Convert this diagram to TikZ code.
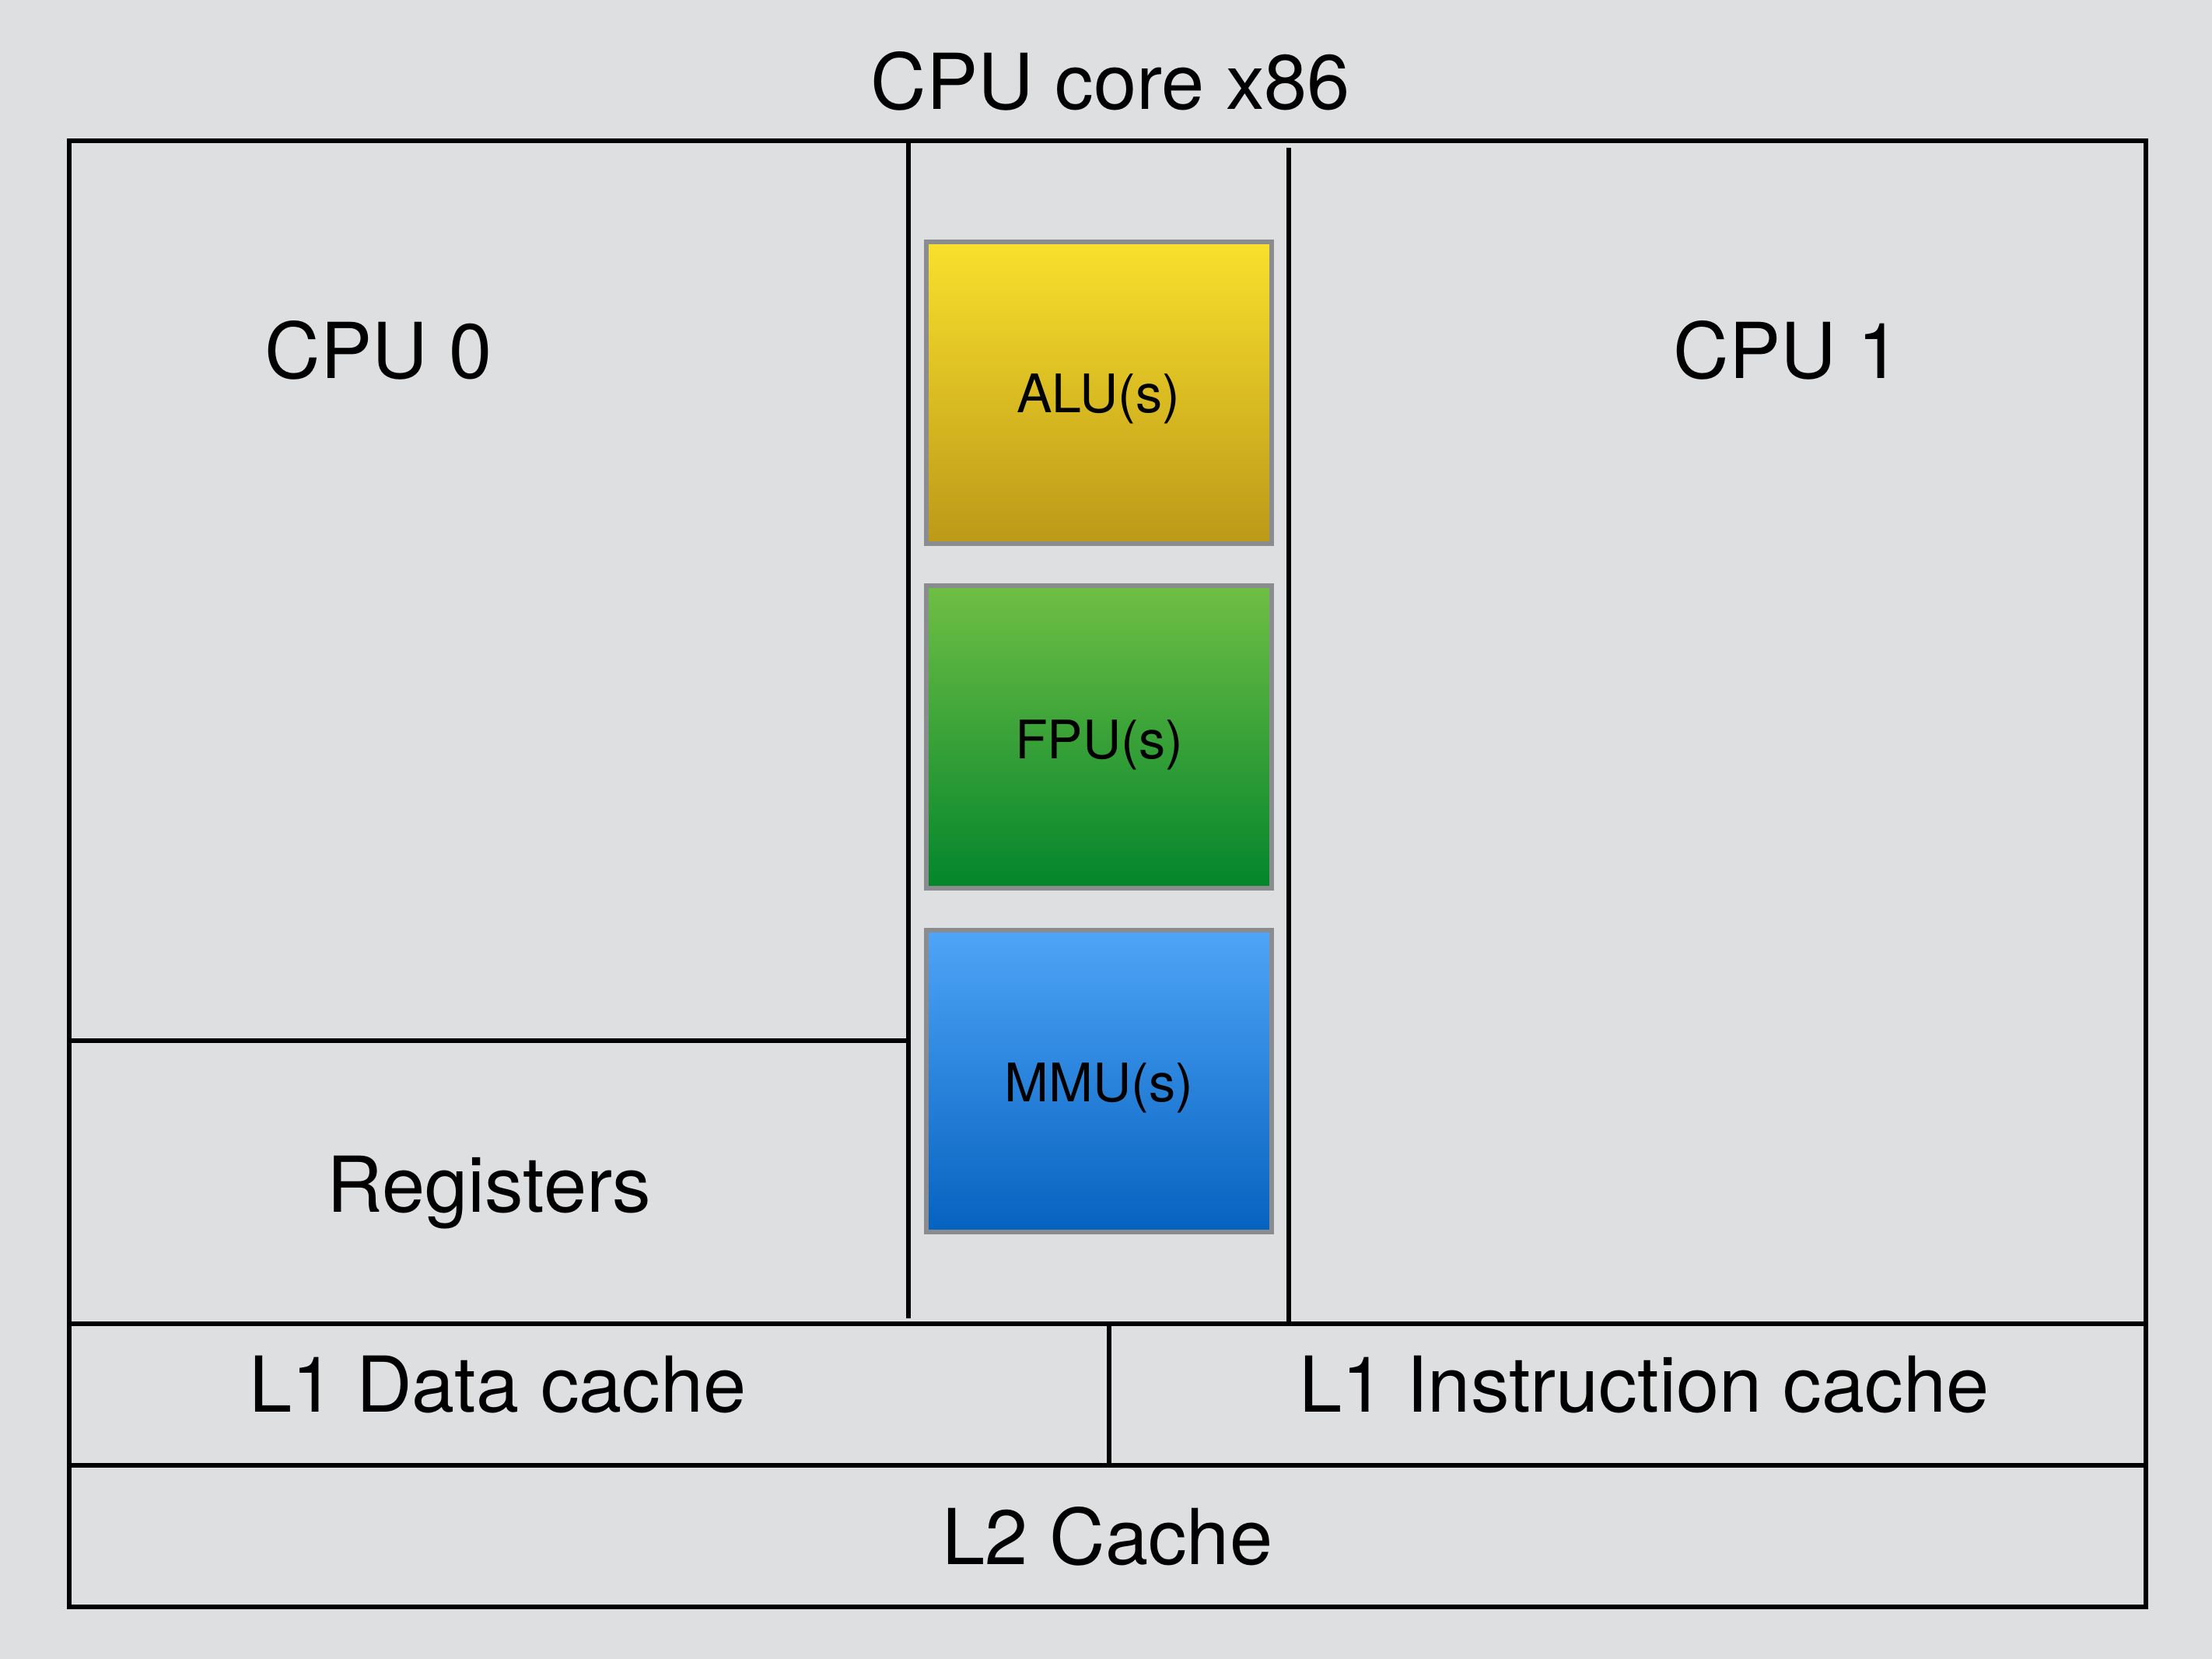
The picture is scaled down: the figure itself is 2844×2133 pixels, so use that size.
\documentclass[tikz,border=0pt]{standalone}
\usepackage{fontspec}
\setmainfont{TeX Gyre Heros}
\definecolor{bgc}{RGB}{222,223,225}
\definecolor{boxgray}{RGB}{138,140,144}
\definecolor{aluTop}{RGB}{249,224,45}
\definecolor{aluBot}{RGB}{188,153,24}
\definecolor{fpuTop}{RGB}{111,191,68}
\definecolor{fpuBot}{RGB}{3,133,44}
\definecolor{mmuTop}{RGB}{79,165,247}
\definecolor{mmuBot}{RGB}{5,98,191}
\tikzset{
  wall/.style={draw=black, line width=0.055cm},
  unitbox/.style={draw=boxgray, line width=0.06cm, rectangle, inner sep=0pt,
    minimum width=4.44cm, minimum height=3.88cm},
  biglabel/.style={anchor=base, inner sep=0pt, font=\fontsize{28.2pt}{34pt}\selectfont},
  smalllabel/.style={anchor=base, inner sep=0pt, font=\fontsize{19.4pt}{23pt}\selectfont}
}
\begin{document}
\begin{tikzpicture}[x=0.01cm,y=-0.01cm]
\useasboundingbox (0,0) rectangle (2844,2133);
\fill[bgc] (0,0) rectangle (2844,2133);

% coordinates
\coordinate (tl) at (89,181);
\coordinate (br) at (2759,2066);

% outer frame
\draw[wall] (tl) rectangle (br);
% left column divider
\draw[wall] (1168,181) -- (1168,1695);
% right column divider
\draw[wall] (1657,190) -- (1657,1702);
% registers separator
\draw[wall] (89,1338) -- (1168,1338);
% L1 top line
\draw[wall] (89,1702) -- (2759,1702);
% L1 divider
\draw[wall] (1426,1702) -- (1426,1884);
% L2 top line
\draw[wall] (89,1884) -- (2759,1884);

% functional units
\node[unitbox, top color=aluTop, bottom color=aluBot] (alu) at (1413,505) {};
\node[unitbox, top color=fpuTop, bottom color=fpuBot] (fpu) at (1413,947.5) {};
\node[unitbox, top color=mmuTop, bottom color=mmuBot] (mmu) at (1413,1390) {};

\node[smalllabel] (alut) at (1412,530) {ALU(s)};
\node[smalllabel] (fput) at (1413,975) {FPU(s)};
\node[smalllabel] (mmut) at (1413,1416) {MMU(s)};

% labels
\node[biglabel] (title) at (1428,140) {CPU core x86};
\node[biglabel] (cpu0) at (487,486) {CPU 0};
\node[biglabel] (cpu1) at (2298,486) {CPU 1};
\node[biglabel] (regs) at (629,1558) {Registers};
\node[biglabel] (l1d) at (640,1815) {L1 Data cache};
\node[biglabel] (l1i) at (2114,1815) {L1 Instruction cache};
\node[biglabel] (l2) at (1424,2011) {L2 Cache};
\end{tikzpicture}
\end{document}
